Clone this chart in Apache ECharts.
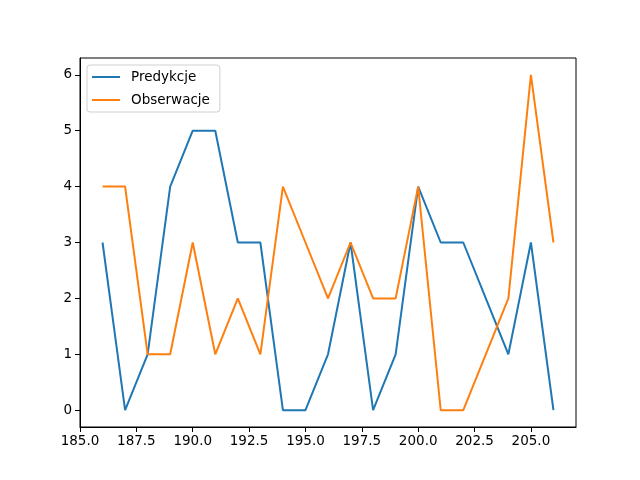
<!DOCTYPE html>
<html>
<head>
<meta charset="utf-8">
<script src="https://cdn.jsdelivr.net/npm/echarts@6/dist/echarts.min.js"></script>
<style>html,body{margin:0;padding:0;background:#fff}#c{width:640px;height:480px}</style>
</head>
<body>
<div id="c"></div>
<script>
const xValues = [186,187,188,189,190,191,192,193,194,195,196,197,198,199,200,201,202,203,204,205,206];
const predykcje = [3,0,1,4,5,5,3,3,0,0,1,3,0,1,4,3,3,2,1,3,0];
const obserwacje = [4,4,1,1,3,1,2,1,4,3,2,3,2,2,4,0,0,1,2,6,3];
const xTicks = [185,187.5,190,192.5,195,197.5,200,202.5,205];
const yTicks = [0,1,2,3,4,5,6];

const chart = echarts.init(document.getElementById('c'));
const font = {fontFamily: 'DejaVu Sans', fontSize: 13.5, color: '#000'};
chart.setOption({
  animation: false,
  backgroundColor: '#fff',
  grid: {left: 80, right: 64, top: 58, bottom: 53, show: true, borderColor: '#000', borderWidth: 1, backgroundColor: 'transparent'},
  legend: {
    orient: 'vertical', left: 87, top: 65,
    padding: [5, 10, 5, 5],
    itemGap: 9, itemWidth: 28, itemHeight: 2,
    icon: 'rect',
    backgroundColor: '#fff', borderColor: '#d0d0d0', borderWidth: 1, borderRadius: 3,
    textStyle: {fontFamily: 'DejaVu Sans', fontSize: 13.5, color: '#000', padding: [0,0,0,6]},
    data: [{name: 'Predykcje'}, {name: 'Obserwacje'}]
  },
  xAxis: {
    type: 'value', min: 185, max: 207,
    splitLine: {show: false},
    axisLine: {show: true, onZero: false, lineStyle: {color: '#000', width: 1}},
    axisTick: {show: true, inside: false, length: 5, lineStyle: {color: '#000'}, customValues: xTicks},
    axisLabel: Object.assign({customValues: xTicks, margin: 7, formatter: v => v.toFixed(1)}, font)
  },
  yAxis: {
    type: 'value', min: -0.3, max: 6.3,
    splitLine: {show: false},
    axisLine: {show: true, onZero: false, lineStyle: {color: '#000', width: 1}},
    axisTick: {show: true, inside: false, length: 5, lineStyle: {color: '#000'}, customValues: yTicks},
    axisLabel: Object.assign({customValues: yTicks, margin: 8, formatter: v => String(v)}, font)
  },
  series: [
    {name: 'Predykcje', type: 'line', data: xValues.map((x,i)=>[x, predykcje[i]]), showSymbol: false, symbol: 'none', color: '#1f77b4', lineStyle: {width: 2, color: '#1f77b4'}},
    {name: 'Obserwacje', type: 'line', data: xValues.map((x,i)=>[x, obserwacje[i]]), showSymbol: false, symbol: 'none', color: '#ff7f0e', lineStyle: {width: 2, color: '#ff7f0e'}}
  ]
});
</script>
</body>
</html>
